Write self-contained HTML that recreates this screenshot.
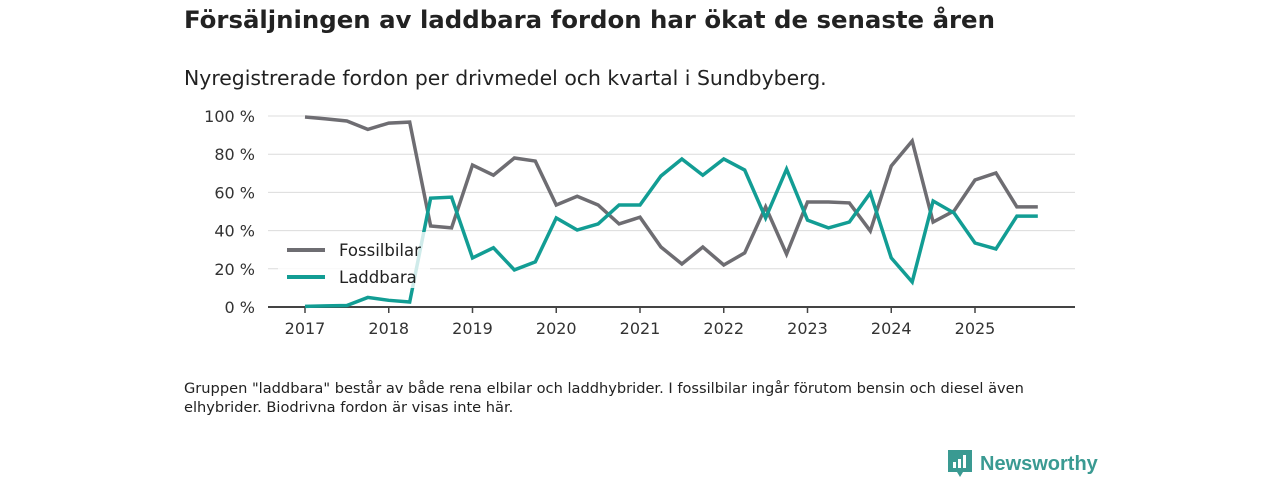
<!DOCTYPE html>
<html><head><meta charset="utf-8"><style>
body{margin:0;width:1280px;height:480px;background:#fff;font-family:"DejaVu Sans","Liberation Sans",sans-serif;color:#222;position:relative;overflow:hidden}
#title{position:absolute;left:184px;top:5px;font-size:24.4px;font-weight:bold;margin:0}
#sub{position:absolute;left:184px;top:66px;font-size:20.4px;margin:0}
#note{position:absolute;left:184px;top:379px;font-size:14.6px;line-height:19px;width:880px;margin:0}
#logo{position:absolute;left:948px;top:450px;display:flex;align-items:center;gap:8px;color:#3a9a92;font-size:20px;font-weight:bold;font-family:"Liberation Sans",sans-serif}
</style></head><body>
<h1 id="title">Försäljningen av laddbara fordon har ökat de senaste åren</h1>
<p id="sub">Nyregistrerade fordon per drivmedel och kvartal i Sundbyberg.</p>
<svg id="chart" width="1280" height="480" style="position:absolute;left:0;top:0"></svg>
<p id="note">Gruppen "laddbara" består av både rena elbilar och laddhybrider. I fossilbilar ingår förutom bensin och diesel även elhybrider. Biodrivna fordon är visas inte här.</p>
<div id="logo"><svg width="24" height="28" viewBox="0 0 24 28"><path d="M0 0H24V22H15L12 27L9 22H0Z" fill="#3a9a92"/><rect x="5" y="12" width="3" height="6" fill="#fff"/><rect x="10" y="9" width="3" height="9" fill="#fff"/><rect x="15" y="5" width="3" height="13" fill="#fff"/></svg><span>Newsworthy</span></div>
<script>
const years=["2017","2018","2019","2020","2021","2022","2023","2024","2025"];
const yTicks=[0,20,40,60,80,100];
const fossil=[99.5,98.5,97.4,93,96.3,96.8,42.4,41.4,74.3,69,78,76.4,53.4,58,53.4,43.5,47,31.4,22.5,31.4,22,28.3,52.4,27.7,55,55,54.5,39.8,73.8,86.9,44.5,50.3,66.5,70.2,52.4,52.4];
const ladd=[0.3,0.6,0.8,5,3.5,2.6,57,57.5,25.7,31,19.4,23.6,46.6,40.3,43.5,53.4,53.4,68.6,77.5,69,77.5,71.7,46.6,72.2,45.5,41.4,44.5,59.7,25.7,13.1,55.5,49.2,33.5,30.4,47.6,47.6];
const NS="http://www.w3.org/2000/svg",svg=document.getElementById('chart');
const x=i=>305+i*(670/32), y=v=>307-v*1.91;
function mk(t,a,p){const e=document.createElementNS(NS,t);for(const k in a)e.setAttribute(k,a[k]);(p||svg).appendChild(e);return e;}
yTicks.forEach(v=>{
 if(v>0){const g=mk('line',{x1:268,x2:1075,y1:y(v),y2:y(v),stroke:'#dcdcdc','stroke-width':1});
 
 }
 const t=mk('text',{x:255,y:y(v)+6,'text-anchor':'end','font-size':16,fill:'#333'});t.textContent=v+' %';
 
 
});
const ax=mk('line',{x1:268,x2:1075,y1:307,y2:307,stroke:'#444','stroke-width':2});


years.forEach((yr,k)=>{const xx=x(k*4);
 mk('line',{x1:xx,x2:xx,y1:307,y2:313,stroke:'#444','stroke-width':1.5});
 const t=mk('text',{x:xx,y:334,'text-anchor':'middle','font-size':16,fill:'#333'});t.textContent=yr;
 
 
});
function line(d,c,n){const p=mk('polyline',{points:d.map((v,i)=>x(i)+','+y(v)).join(' '),fill:'none',stroke:c,'stroke-width':3.5,'stroke-linejoin':'miter'});
 
 }
line(fossil,'#6e6d72','fossilbilar-line');
line(ladd,'#129d94','laddbara-line');
const lg=mk('g',{});


mk('rect',{x:278,y:232,width:152,height:56,fill:'#fff','fill-opacity':0.8},lg);
[['Fossilbilar','#6e6d72',250],['Laddbara','#129d94',277]].forEach(([n,c,yy])=>{
 mk('line',{x1:287,x2:325,y1:yy,y2:yy,stroke:c,'stroke-width':4},lg);
 const t=mk('text',{x:339,y:yy+6,'font-size':16.5,fill:'#222'},lg);t.textContent=n;
 
 
});
</script>
</body></html>
